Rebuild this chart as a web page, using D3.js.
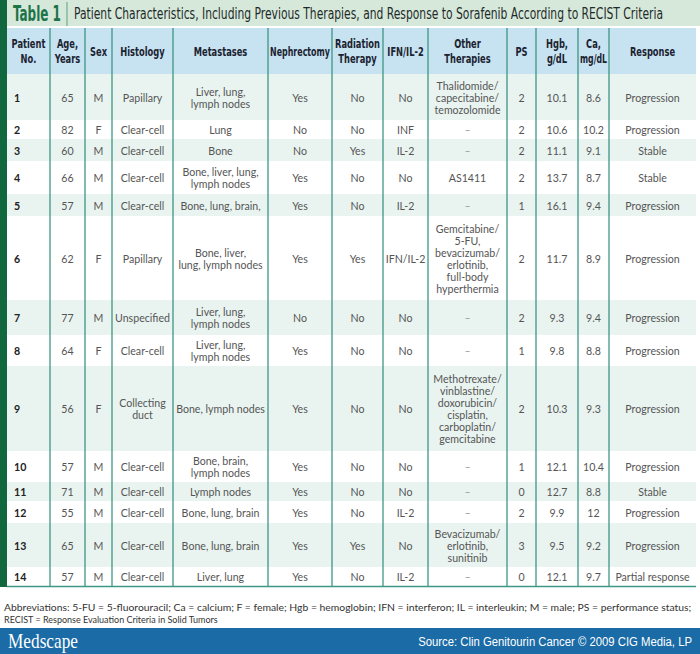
<!DOCTYPE html>
<html>
<head>
<meta charset="utf-8">
<script src="https://cdn.jsdelivr.net/npm/d3@7"></script>
<style>
  body { margin: 0; background: #fff; }
  svg { display: block; }
  .head { font-family: "DejaVu Sans Condensed", "DejaVu Sans", sans-serif; font-weight: bold; }
  .cell { font-family: Lato, "Open Sans", sans-serif; }
</style>
</head>
<body>
<div id="chart"></div>
<script>

  // table contents, one array per column
  var headers = ["Patient\nNo.", "Age,\nYears", "Sex", "Histology", "Metastases", "Nephrectomy",
    "Radiation\nTherapy", "IFN/IL-2", "Other\nTherapies", "PS", "Hgb,\ng/dL", "Ca,\nmg/dL", "Response"];

  var patientNo = [1, 2, 3, 4, 5, 6, 7, 8, 9, 10, 11, 12, 13, 14];
  var ages = [65, 82, 60, 66, 57, 62, 77, 64, 56, 57, 71, 55, 65, 57];
  var sexes = ["M", "F", "M", "M", "M", "F", "M", "F", "F", "M", "M", "M", "M", "M"];
  var histology = ["Papillary", "Clear-cell", "Clear-cell", "Clear-cell", "Clear-cell", "Papillary",
    "Unspecified", "Clear-cell", "Collecting\nduct", "Clear-cell", "Clear-cell", "Clear-cell", "Clear-cell", "Clear-cell"];
  var metastases = ["Liver, lung,\nlymph nodes", "Lung", "Bone", "Bone, liver, lung,\nlymph nodes", "Bone, lung, brain,",
    "Bone, liver,\nlung, lymph nodes", "Liver, lung,\nlymph nodes", "Liver, lung,\nlymph nodes", "Bone, lymph nodes",
    "Bone, brain,\nlymph nodes", "Lymph nodes", "Bone, lung, brain", "Bone, lung, brain", "Liver, lung"];
  var nephrectomy = ["Yes", "No", "No", "Yes", "Yes", "Yes", "No", "Yes", "Yes", "Yes", "Yes", "Yes", "Yes", "Yes"];
  var radiation = ["No", "No", "Yes", "No", "No", "Yes", "No", "No", "No", "No", "No", "No", "Yes", "No"];
  var ifnIl2 = ["No", "INF", "IL-2", "No", "IL-2", "IFN/IL-2", "No", "No", "No", "No", "No", "IL-2", "No", "IL-2"];
  var otherTherapies = ["Thalidomide/\ncapecitabine/\ntemozolomide", "–", "–", "AS1411", "–",
    "Gemcitabine/\n5-FU,\nbevacizumab/\nerlotinib,\nfull-body\nhyperthermia", "–", "–",
    "Methotrexate/\nvinblastine/\ndoxorubicin/\ncisplatin,\ncarboplatin/\ngemcitabine", "–", "–", "–",
    "Bevacizumab/\nerlotinib,\nsunitinib", "–"];
  var ps = [2, 2, 2, 2, 1, 2, 2, 1, 2, 1, 0, 2, 3, 0];
  var hgb = [10.1, 10.6, 11.1, 13.7, 16.1, 11.7, 9.3, 9.8, 10.3, 12.1, 12.7, 9.9, 9.5, 12.1];
  var ca = [8.6, 10.2, 9.1, 8.7, 9.4, 8.9, 9.4, 8.8, 9.3, 10.4, 8.8, 12, 9.2, 9.7];
  var response = ["Progression", "Progression", "Stable", "Stable", "Progression", "Progression", "Progression",
    "Progression", "Progression", "Progression", "Stable", "Progression", "Progression", "Partial response"];

  var title = "Patient Characteristics, Including Previous Therapies, and Response to Sorafenib According to RECIST Criteria";
  var notes = ["Abbreviations: 5-FU = 5-fluorouracil; Ca = calcium; F = female; Hgb = hemoglobin; IFN = interferon; IL = interleukin; M = male; PS = performance status;",
    "RECIST = Response Evaluation Criteria in Solid Tumors"];
  var source = "Source: Clin Genitourin Cancer © 2009 CIG Media, LP";

  // layout
  var width = 700, height = 654;
  var colEdges = [7, 50, 85, 112, 173, 268, 332, 383, 428, 507, 536, 578, 609, 696];
  var rowHeights = [46, 19, 22, 33, 22, 84, 35, 31, 85, 31, 19, 22, 44, 19];
  var headTop = 28, bodyTop = 74, lineH = 12;
  var right = colEdges[colEdges.length - 1];

  var columns = [patientNo, ages, sexes, histology, metastases, nephrectomy, radiation,
    ifnIl2, otherTherapies, ps, hgb, ca, response];

  var rows = patientNo.map(function(d, i) {
    return columns.map(function(c) { return String(c[i]); });
  });

  // cumulative row offsets -> y positions
  var total = d3.sum(rowHeights);
  var offsets = [0].concat(Array.from(d3.cumsum(rowHeights)));
  var y = d3.scaleLinear()
    .domain([0, total])
    .range([bodyTop, bodyTop + total]);

  var svg = d3.select("#chart")
    .append("svg")
    .attr("width", width)
    .attr("height", height);

  // squeeze a text horizontally so it is w pixels wide (fakes a condensed face)
  function fit(sel, x0, y0, w, maxScale) {
    var nat = sel.node().getComputedTextLength();
    var s = Math.min(maxScale || 10, w / nat);
    sel.attr("x", 0).attr("y", 0)
      .attr("transform", "translate(" + x0 + "," + y0 + ") scale(" + s + ",1)");
    return sel;
  }

  // title band
  svg.append("rect")
    .attr("x", 0).attr("y", 0)
    .attr("width", width).attr("height", 26)
    .style("fill", "#d6e8d9");

  fit(svg.append("text")
    .attr("class", "head")
    .style("font-size", "21px")
    .style("fill", "#1d7449")
    .text("Table 1"), 13, 21, 48);

  svg.append("line")
    .attr("x1", 67).attr("x2", 67)
    .attr("y1", 2).attr("y2", 26)
    .style("stroke", "#5f9f7f").style("stroke-width", 1);

  fit(svg.append("text")
    .attr("class", "head")
    .style("font-size", "15px")
    .style("font-weight", "normal")
    .style("fill", "#1e2a2a")
    .text(title), 74, 19, 590);

  // header band
  svg.append("rect")
    .attr("x", 7).attr("y", headTop)
    .attr("width", right - 7).attr("height", bodyTop - headTop)
    .style("fill", "#c7e2f0");

  // body row backgrounds
  svg.append("g")
    .selectAll("rect")
    .data(rowHeights)
    .enter().append("rect")
    .attr("x", 7)
    .attr("y", function(d, i) { return y(offsets[i]); })
    .attr("width", right - 7)
    .attr("height", function(d) { return d; })
    .style("fill", function(d, i) { return i % 2 == 0 ? "#e9f4f0" : "#ffffff"; });

  // header labels, condensed bold
  var gh = svg.append("g");
  headers.forEach(function(h, j) {
    var cx = (colEdges[j] + colEdges[j + 1]) / 2;
    var parts = h.split("\n");
    parts.forEach(function(p, k) {
      var t = gh.append("text")
        .attr("class", "head")
        .attr("text-anchor", "middle")
        .style("font-size", "12.5px")
        .style("fill", "#1b2230")
        .text(p);
      var nat = t.node().getComputedTextLength();
      var s = Math.min(0.74, (colEdges[j + 1] - colEdges[j] - 4) / nat);
      t.attr("x", 0).attr("y", 0)
        .attr("transform", "translate(" + cx + "," + (51 + (k - (parts.length - 1) / 2) * 15 + 4.5) + ") scale(" + s + ",1)");
    });
  });

  // body cells
  function multiline(sel, cx, cy, str, color, weight, anchor) {
    var parts = str.split("\n");
    var t = sel.append("text")
      .attr("class", "cell")
      .attr("text-anchor", anchor || "middle")
      .style("font-size", "10.6px")
      .style("font-weight", weight || "normal")
      .style("fill", color);
    parts.forEach(function(p, k) {
      t.append("tspan")
        .attr("x", cx)
        .attr("y", cy + (k - (parts.length - 1) / 2) * lineH + 4.5)
        .text(p);
    });
  }

  var gb = svg.append("g");
  rows.forEach(function(r, i) {
    var cy = y(offsets[i] + rowHeights[i] / 2);
    r.forEach(function(v, j) {
      if (j == 0) {
        multiline(gb, colEdges[0] + 7, cy, v, "#222", "bold", "start");
      } else {
        var cx = (colEdges[j] + colEdges[j + 1]) / 2;
        multiline(gb, cx, cy, v, v == "–" ? "#999" : "#555", "normal");
      }
    });
  });

  // column rules
  svg.append("g")
    .selectAll("line")
    .data(colEdges.slice(1, -1))
    .enter().append("line")
    .attr("x1", function(d) { return d; })
    .attr("x2", function(d) { return d; })
    .attr("y1", headTop)
    .attr("y2", y(total))
    .style("stroke", "#3e9684")
    .style("stroke-width", 1.3);

  // bottom rule
  svg.append("line")
    .attr("x1", 7).attr("x2", right)
    .attr("y1", y(total) + 0.5).attr("y2", y(total) + 0.5)
    .style("stroke", "#3e9684").style("stroke-width", 1.3);

  // left green bar
  svg.append("rect")
    .attr("x", 0).attr("y", 0)
    .attr("width", 7).attr("height", y(total) + 1)
    .style("fill", "#11683f");

  // footnotes
  fit(svg.append("text")
    .attr("class", "cell")
    .style("font-size", "10px").style("fill", "#333")
    .text(notes[0]), 4, 611, 688);

  fit(svg.append("text")
    .attr("class", "cell")
    .style("font-size", "10px").style("fill", "#333")
    .text(notes[1]), 4, 623, 214);

  // medscape bar
  svg.append("rect")
    .attr("x", 0).attr("y", 628)
    .attr("width", width).attr("height", height - 628)
    .style("fill", "#1b6ba6");

  fit(svg.append("text")
    .style("font-family", "'Liberation Serif', 'DejaVu Serif', serif")
    .style("font-size", "20px").style("fill", "#fff")
    .text("Medscape"), 8, 648, 70);

  fit(svg.append("text")
    .attr("text-anchor", "end")
    .style("font-family", "'Liberation Sans', Arial, sans-serif")
    .style("font-size", "13.5px").style("fill", "#fff")
    .text(source), 692, 646, 274);

</script>
</body>
</html>
